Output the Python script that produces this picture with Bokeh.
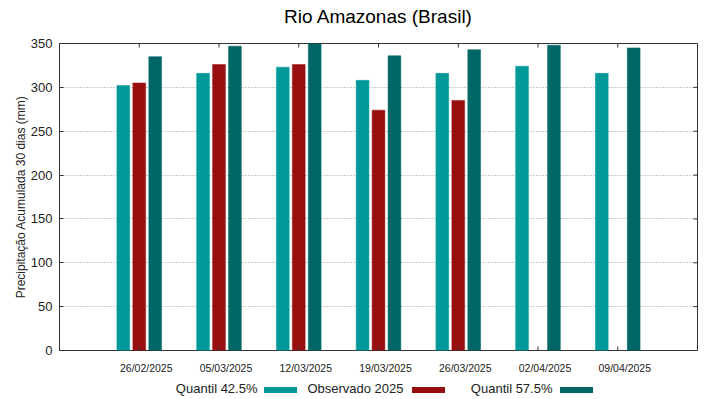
import numpy as np
from bokeh.plotting import figure
from bokeh.models import ColumnDataSource, Range1d, FixedTicker
from bokeh.layouts import column
from bokeh.core.properties import value
from bokeh.transform import dodge
from bokeh.embed import file_html
from bokeh.resources import INLINE

# ---- data ----
title_text = "Rio Amazonas (Brasil)"
dates = ["26/02/2025", "05/03/2025", "12/03/2025", "19/03/2025",
         "26/03/2025", "02/04/2025", "09/04/2025"]
q425 = [302, 316, 323, 308, 316, 324, 316]
obs2025 = [305, 326, 326, 274, 285, float("nan"), float("nan")]
q575 = [335, 347, 352, 336, 343, 348, 345]
y_ticks = [0, 50, 100, 150, 200, 250, 300, 350]
series_names = ["Quantil 42.5%", "Observado 2025", "Quantil 57.5%"]
colors = ["#009999", "#990f0f", "#006666"]

idx = list(range(len(dates)))
src = ColumnDataSource(dict(x=idx, q425=q425, obs=obs2025, q575=q575))

FONT = "Liberation Sans"
W = 719
H_TITLE, H_MAIN, H_BOT = 30, 329, 40
BL, BR = 59, 22
X0, X1 = -1, 7


def strip(h, xr):
    f = figure(width=W, height=h, output_backend="svg", toolbar_location=None,
               x_range=xr, y_range=Range1d(0, h),
               min_border_left=BL, min_border_right=BR, min_border_top=0,
               min_border_bottom=0)
    f.axis.visible = False
    f.grid.visible = False
    f.outline_line_color = None
    return f


# ---- title strip ----
tt = strip(H_TITLE, Range1d(BL, W - BR))
tt.text(x=[(BL + W - BR) / 2], y=[14], text=[title_text], text_align="center",
        text_baseline="middle", text_font_size="19px", text_color="#000000",
        text_font=value(FONT))

# ---- main chart ----
xr = Range1d(X0, X1)
p = figure(width=W, height=H_MAIN, output_backend="svg", toolbar_location=None,
           x_range=xr, y_range=Range1d(0, 350),
           min_border_left=BL, min_border_right=BR, min_border_top=13,
           min_border_bottom=9)

bw = 0.16
for field, off, col in zip(["q425", "obs", "q575"], [-0.2, 0.0, 0.2], colors):
    p.vbar(x=dodge("x", off), top=field, bottom=0, width=bw, source=src,
           fill_color=col, line_color=col, line_width=0.5)

p.xaxis.visible = False
p.yaxis.ticker = FixedTicker(ticks=y_ticks)
ax = p.yaxis[0]
ax.axis_line_color = None
ax.major_tick_in = 4
ax.major_tick_out = 0
ax.minor_tick_line_color = None
ax.major_tick_line_color = "#333333"
ax.major_label_text_font = FONT
ax.major_label_text_color = "#222222"
ax.major_label_text_font_size = "13px"
ax.major_label_standoff = 7
ax.axis_label = "Precipitação Acumulada 30 dias (mm)"
ax.axis_label_text_font = FONT
ax.axis_label_text_font_size = "12px"
ax.axis_label_text_font_style = "normal"
ax.axis_label_text_color = "#222222"
ax.axis_label_standoff = 0

# inward ticks on right, top and bottom edges
p.ray(x=[X1] * len(y_ticks), y=y_ticks, length=4, length_units="screen",
      angle=np.pi, line_color="#333333", line_width=1)
p.ray(x=idx, y=[350] * len(idx), length=4, length_units="screen",
      angle=-np.pi / 2, line_color="#333333", line_width=1)
p.ray(x=idx, y=[0] * len(idx), length=4, length_units="screen",
      angle=np.pi / 2, line_color="#333333", line_width=1)

p.xgrid.grid_line_color = None
p.ygrid.grid_line_color = "#999999"
p.ygrid.grid_line_dash = "1 2"
p.ygrid.grid_line_width = 1
p.outline_line_color = "#333333"
p.outline_line_width = 1

# ---- bottom strip: date labels (shared x scale) + legend ----
bt = strip(H_BOT, Range1d(X0, X1))
bt.extra_x_ranges = {"px": Range1d(BL, W - BR)}
bt.text(x=idx, y=[32] * len(idx), text=dates, text_align="center",
        text_baseline="middle", x_offset=7, text_font_size="10.5px",
        text_color="#222222", text_font=value(FONT))

text_right = [257, 403, 552]
sw_center = [280, 428, 576]
lsrc = ColumnDataSource(dict(tx=text_right, sx=sw_center, name=series_names,
                             col=colors, ty=[11] * 3, sy=[9.5] * 3))
bt.text(x="tx", y="ty", text="name", source=lsrc, text_align="right",
        text_baseline="middle", text_font_size="13px", text_color="#222222",
        text_font=value(FONT), x_range_name="px")
bt.rect(x="sx", y="sy", width=33, height=6, source=lsrc, fill_color="col",
        line_color=None, x_range_name="px")

layout = column(tt, p, bt, spacing=0)
open("out.html", "w").write(file_html(layout, INLINE))
